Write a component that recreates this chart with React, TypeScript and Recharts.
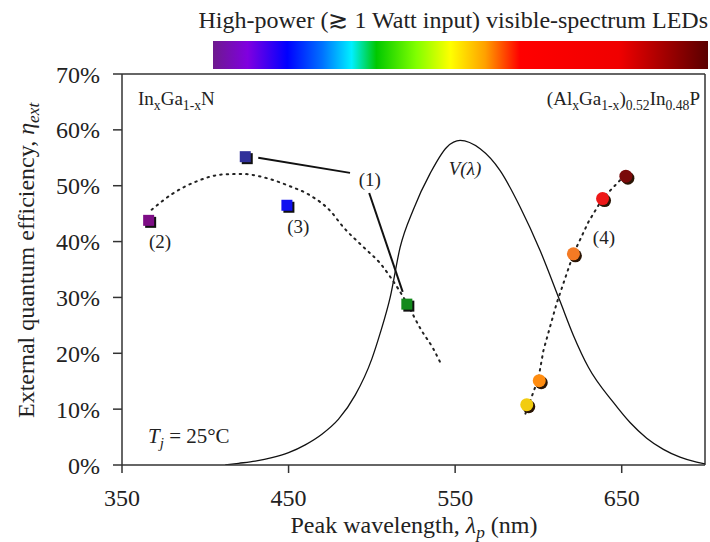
import React from 'react';
import {
  ComposedChart,
  Line,
  Scatter,
  XAxis,
  YAxis,
  ReferenceLine,
  ReferenceDot,
  Cell,
} from 'recharts';

const FONT = 'Liberation Serif, Times New Roman, DejaVu Serif, serif';

// InGaN high-power LEDs (squares): (2), (1), (3), green
const inganNm = [366, 424, 449, 521];
const inganEff = [0.438, 0.552, 0.465, 0.288];
// AlGaInP high-power LEDs (circles)
const alganNm = [593, 600.5, 621, 638.5, 652.5];
const alganEff = [0.108, 0.151, 0.378, 0.477, 0.517];

// dotted guide through InGaN devices
const inganFitNm = [367.8, 380, 395, 410, 422.8, 435, 450, 462.8, 475, 482.8, 495, 505, 511, 520, 530, 536.7, 541];
const inganFitEff = [0.457, 0.485, 0.508, 0.52, 0.521, 0.515, 0.5, 0.483, 0.455, 0.426, 0.39, 0.361, 0.337, 0.295, 0.24, 0.209, 0.184];

// dotted guide through AlGaInP devices
const alganFitNm = [592.2, 600, 603, 611, 621, 630, 638.5, 650];
const alganFitEff = [0.092, 0.155, 0.205, 0.29, 0.378, 0.435, 0.477, 0.513];

// eye sensitivity V(lambda), scaled
const vNm = [412, 420, 430, 440, 450, 460, 470, 480, 490, 500, 505, 511, 517, 525, 535, 545, 553, 565, 577, 589, 601, 613, 621, 630, 645, 655, 665, 675, 685, 695, 700];
const vEff = [0, 0.003, 0.007, 0.013, 0.022, 0.036, 0.055, 0.082, 0.125, 0.19, 0.236, 0.3, 0.39, 0.458, 0.522, 0.569, 0.581, 0.566, 0.527, 0.462, 0.384, 0.293, 0.232, 0.175, 0.112, 0.076, 0.048, 0.028, 0.014, 0.005, 0.002];

// leader lines for label (1)
const leaderANm = [431.8, 486.9];
const leaderAEff = [0.55, 0.523];
const leaderBNm = [498.4, 518.5];
const leaderBEff = [0.487, 0.31];

const xTicks = [350, 450, 550, 650];
const yTicks = [0, 0.1, 0.2, 0.3, 0.4, 0.5, 0.6, 0.7];

const squareColors = ['#7d0d85', '#30309a', '#1010f0', '#138a1c'];
const circleColors = ['#f2cc10', '#ff8c10', '#f47a24', '#ee1818', '#7a0a0a'];

const zip = (a: number[], b: number[]) => a.map((nm, i) => ({ nm, eff: b[i] }));

const inganData = zip(inganNm, inganEff);
const alganData = zip(alganNm, alganEff);
const inganFit = zip(inganFitNm, inganFitEff);
const alganFit = zip(alganFitNm, alganFitEff);
const vData = zip(vNm, vEff);
const leaderA = zip(leaderANm, leaderAEff);
const leaderB = zip(leaderBNm, leaderBEff);

const SquareShape = (p: any) => {
  const s = 11;
  return (
    <g>
      <rect x={p.cx - s / 2 + 2} y={p.cy - s / 2 + 2} width={s} height={s} fill="#111" />
      <rect x={p.cx - s / 2} y={p.cy - s / 2} width={s} height={s} fill={p.fill} />
    </g>
  );
};

const CircleShape = (p: any) => (
  <g>
    <circle cx={p.cx + 2} cy={p.cy + 2} r={6.5} fill="#2a1505" />
    <circle cx={p.cx} cy={p.cy} r={6.5} fill={p.fill} />
  </g>
);

// segments: [text, subscript?, italic?]
type Seg = [string, boolean?, boolean?];
const renderSegs = (segs: Seg[]) => {
  let prevSub = false;
  return segs.map(([t, isSub, it], i) => {
    let dy = 0;
    if (isSub && !prevSub) dy = 5;
    if (!isSub && prevSub) dy = -5;
    prevSub = !!isSub;
    return (
      <tspan
        key={i}
        dy={dy}
        fontSize={isSub ? '0.72em' : undefined}
        fontStyle={it ? 'italic' : undefined}
      >
        {t}
      </tspan>
    );
  });
};

const label = (content: string, italic = false, size = 19) =>
  (p: any) => (
    <text
      x={p.cx}
      y={p.cy}
      textAnchor="middle"
      dominantBaseline="central"
      fontFamily={FONT}
      fontSize={size}
      fontStyle={italic ? 'italic' : 'normal'}
      fill="#222"
    >
      {content}
    </text>
  );

const segLabel = (segs: Seg[], anchor: string, size: number) =>
  (p: any) => (
    <text x={p.cx} y={p.cy} textAnchor={anchor as any} fontFamily={FONT} fontSize={size} fill="#222">
      {renderSegs(segs)}
    </text>
  );

export default function App() {
  return (
    <div style={{ position: 'absolute', left: 0, top: 0, width: 710, height: 542, background: '#fff', fontFamily: FONT }}>
      <ComposedChart
        width={710}
        height={542}
        margin={{ top: 74, right: 5, bottom: 47, left: 0 }}
      >
        <XAxis
          dataKey="nm"
          type="number"
          domain={[350, 700]}
          ticks={xTicks}
          allowDataOverflow
          height={30}
          tickSize={8}
          tickMargin={16}
          stroke="#333"
          strokeWidth={1.5}
          tick={{ fontFamily: FONT, fontSize: 24, fill: '#222' }}
        />
        <YAxis
          dataKey="eff"
          type="number"
          domain={[0, 0.7]}
          ticks={yTicks}
          allowDataOverflow
          width={122}
          tickSize={9}
          tickMargin={13}
          stroke="#333"
          strokeWidth={1.5}
          tickFormatter={(v: number) => `${Math.round(v * 100)}%`}
          tick={{ fontFamily: FONT, fontSize: 24, fill: '#222' }}
        />
        <ReferenceLine y={0.7} stroke="#333" strokeWidth={1.5} />
        <ReferenceLine x={700} stroke="#333" strokeWidth={1.5} />

        <Line data={vData} dataKey="eff" type="monotone" stroke="#111" strokeWidth={1.3} dot={false} isAnimationActive={false} />

        <Scatter data={inganData} dataKey="eff" shape={SquareShape} isAnimationActive={false}>
          {inganData.map((_, i) => (
            <Cell key={i} fill={squareColors[i]} />
          ))}
        </Scatter>
        <Scatter data={alganData} dataKey="eff" shape={CircleShape} isAnimationActive={false}>
          {alganData.map((_, i) => (
            <Cell key={i} fill={circleColors[i]} />
          ))}
        </Scatter>

        <Line data={inganFit} dataKey="eff" type="monotone" stroke="#222" strokeWidth={2} strokeDasharray="1.5 5" strokeLinecap="round" dot={false} isAnimationActive={false} />
        <Line data={alganFit} dataKey="eff" type="linear" stroke="#222" strokeWidth={2} strokeDasharray="1.5 5" strokeLinecap="round" dot={false} isAnimationActive={false} />
        <Line data={leaderA} dataKey="eff" type="linear" stroke="#111" strokeWidth={2} dot={false} isAnimationActive={false} />
        <Line data={leaderB} dataKey="eff" type="linear" stroke="#111" strokeWidth={2} dot={false} isAnimationActive={false} />

        <ReferenceDot x={498.8} y={0.511} shape={label('(1)')} />
        <ReferenceDot x={372.8} y={0.401} shape={label('(2)')} />
        <ReferenceDot x={455.8} y={0.427} shape={label('(3)')} />
        <ReferenceDot x={639.3} y={0.407} shape={label('(4)')} />
        <ReferenceDot x={555.9} y={0.53} shape={label('V(λ)', true)} />
        <ReferenceDot
          x={359.6}
          y={0.645}
          shape={segLabel([['In'], ['x', true], ['Ga'], ['1-x', true], ['N']], 'start', 19)}
        />
        <ReferenceDot
          x={697}
          y={0.645}
          shape={segLabel(
            [['(Al'], ['x', true], ['Ga'], ['1-x', true], [')'], ['0.52', true], ['In'], ['0.48', true], ['P']],
            'end',
            19,
          )}
        />
        <ReferenceDot
          x={365.6}
          y={0.039}
          shape={segLabel([['T', false, true], ['j', true, true], [' = 25°C']], 'start', 21)}
        />
      </ComposedChart>

      <svg
        width={710}
        height={542}
        style={{ position: 'absolute', left: 0, top: 0, pointerEvents: 'none' }}
      >
        <defs>
          <linearGradient id="spec" x1="0" x2="1" y1="0" y2="0">
            <stop offset="0" stopColor="#6e1a8e" />
            <stop offset="0.07" stopColor="#8000e0" />
            <stop offset="0.15" stopColor="#0000ff" />
            <stop offset="0.22" stopColor="#0070ff" />
            <stop offset="0.28" stopColor="#00f0ff" />
            <stop offset="0.33" stopColor="#00c800" />
            <stop offset="0.41" stopColor="#80ff00" />
            <stop offset="0.48" stopColor="#ffff00" />
            <stop offset="0.55" stopColor="#ffa000" />
            <stop offset="0.62" stopColor="#ff0000" />
            <stop offset="0.82" stopColor="#f00000" />
            <stop offset="1" stopColor="#5a0000" />
          </linearGradient>
        </defs>
        <text x={708} y={28} textAnchor="end" fontFamily={FONT} fontSize={24} fill="#222">
          High-power (≳ 1 Watt input) visible-spectrum LEDs
        </text>
        <rect x={213} y={41} width={495} height={28} fill="url(#spec)" />
        <text
          transform="translate(33.5,418) rotate(-90)"
          fontFamily={FONT}
          fontSize={24}
          fill="#222"
        >
          {renderSegs([['External quantum efficiency, '], ['η', false, true], ['ext', true, true]])}
        </text>
        <text x={414} y={533} textAnchor="middle" fontFamily={FONT} fontSize={24} fill="#222">
          {renderSegs([['Peak wavelength, '], ['λ', false, true], ['p', true, true], [' (nm)']])}
        </text>
      </svg>
    </div>
  );
}
